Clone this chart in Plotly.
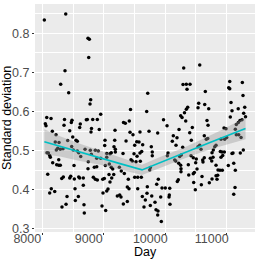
import plotly.graph_objects as go

# scatter points: day, standard deviation
day = [8033, 8381, 8743, 8765, 8755, 8369, 8299, 8429, 9715, 10300, 10561, 10289, 10343, 10403, 10354, 10652, 11049, 11032, 11049, 11254,
       8787, 8776, 8950, 8072, 8142, 8049, 8060, 8361, 8483, 8472, 8716, 8732, 8820, 8895, 8353, 8618, 8608, 8800, 8926, 8163, 8446, 8792, 8223,
       9435, 9698, 9321, 9350, 9415, 10251, 10273, 9972, 10029, 10333, 9183, 9427, 9475, 9589, 9736, 9877, 10131, 10191, 10224,
       10365, 10343, 10313, 10544, 10533, 10642, 10707, 11070, 11293, 11086, 11187, 11276, 11265, 11058, 10679, 10696, 10440, 10956, 10988,
       11156, 11189, 11216, 11249, 11306, 11140, 11156, 11195, 11233, 10398,
       8548, 8569, 8272, 8211, 8495, 8413, 9020, 9015, 8228, 8251, 8293, 8337, 8478, 8504, 8569, 8592, 8625, 8695, 8781, 8797, 8862, 8911, 9048,
       8076, 8098, 8120, 8130, 8885, 8950, 9048, 8169, 8267, 8234, 8267, 8293, 8516, 8748, 8743, 8846, 8885, 9025,
       9178, 9362, 9536, 9573, 10115, 9633, 9503, 9773, 9166, 9188, 9188, 10175, 9589, 9617, 9789, 9101, 9122, 9313, 9492, 10045, 10034, 10235,
       10261, 9541, 9789, 9443, 9464, 9524, 9594, 10154, 10170, 9757, 9747, 10219, 10251, 10256, 9090, 9122, 9145, 9253,
       10424, 10635, 10668, 10691, 10907, 10967, 11000, 10826, 10805, 10782, 10761, 10561, 10533, 10284, 10582, 10896, 10923, 10961, 10907, 10935,
       11086, 11102, 11221, 11270, 10419, 10456, 10505, 10495, 10733, 10756, 10777, 10635, 10609, 10614, 10826, 10375, 10517, 10858, 10891, 10928,
       11026, 11114, 11140,
       8088, 8316, 8342, 8446, 8462, 8521, 8592, 8608, 8667, 8830, 8862, 8895, 8983, 9009, 9085, 8667, 8532, 8146, 8120, 8202, 9069, 9048, 8987,
       8402, 8586, 8537, 8678, 8386, 8320, 8971, 9031, 8683,
       9162, 9129, 9101, 9285, 9334, 9399, 9503, 9552, 9611, 9383, 9410, 9552, 9708, 9861, 9887, 9947, 10001, 10073, 10196, 10212, 9220, 9259,
       9280, 9383, 9627, 9676, 9703, 10066, 10061, 9318, 9780, 9926, 9654, 9757, 9833, 10077, 9850, 9882, 9877, 9936,
       10256, 10382, 10456, 10473, 10853, 10826, 10598, 10463, 10761, 10717, 10587, 10842, 10489, 11135, 11114]
sd = [0.834, 0.849, 0.787, 0.785, 0.738, 0.704, 0.670, 0.648, 0.647, 0.711, 0.719, 0.669, 0.670, 0.670, 0.657, 0.651, 0.677, 0.661, 0.658, 0.674,
      0.630, 0.619, 0.593, 0.585, 0.582, 0.569, 0.564, 0.580, 0.578, 0.572, 0.579, 0.580, 0.580, 0.580, 0.565, 0.568, 0.559, 0.557, 0.554, 0.550, 0.551, 0.548, 0.541,
      0.605, 0.600, 0.572, 0.570, 0.576, 0.589, 0.585, 0.579, 0.564, 0.576, 0.552, 0.547, 0.541, 0.548, 0.550, 0.545, 0.538, 0.533, 0.554,
      0.611, 0.606, 0.597, 0.621, 0.610, 0.618, 0.607, 0.623, 0.611, 0.602, 0.607, 0.596, 0.641, 0.586, 0.577, 0.565, 0.559, 0.558, 0.556,
      0.567, 0.572, 0.577, 0.579, 0.587, 0.555, 0.541, 0.541, 0.534, 0.546,
      0.527, 0.524, 0.521, 0.522, 0.535, 0.526, 0.527, 0.513, 0.502, 0.506, 0.504, 0.505, 0.511, 0.502, 0.499, 0.495, 0.485, 0.504, 0.501, 0.491, 0.501, 0.499, 0.493,
      0.495, 0.494, 0.488, 0.483, 0.481, 0.481, 0.483, 0.469, 0.477, 0.464, 0.463, 0.463, 0.462, 0.472, 0.454, 0.458, 0.459, 0.462,
      0.527, 0.525, 0.523, 0.522, 0.524, 0.515, 0.514, 0.510, 0.510, 0.504, 0.497, 0.514, 0.494, 0.498, 0.497, 0.492, 0.495, 0.493, 0.492, 0.494, 0.487, 0.485,
      0.489, 0.486, 0.487, 0.477, 0.474, 0.472, 0.473, 0.476, 0.474, 0.457, 0.451, 0.468, 0.463, 0.454, 0.466, 0.458, 0.453, 0.458,
      0.527, 0.538, 0.529, 0.531, 0.529, 0.529, 0.534, 0.514, 0.510, 0.502, 0.495, 0.514, 0.510, 0.509, 0.504, 0.498, 0.497, 0.497, 0.483, 0.488,
      0.493, 0.494, 0.494, 0.502, 0.487, 0.482, 0.479, 0.469, 0.481, 0.474, 0.483, 0.482, 0.476, 0.471, 0.463, 0.464, 0.453, 0.451, 0.450, 0.450,
      0.462, 0.468, 0.450,
      0.440, 0.429, 0.433, 0.430, 0.435, 0.428, 0.433, 0.430, 0.430, 0.432, 0.427, 0.425, 0.427, 0.429, 0.439, 0.412, 0.403, 0.403, 0.392, 0.396, 0.402, 0.397, 0.392,
      0.383, 0.383, 0.373, 0.362, 0.363, 0.356, 0.359, 0.347, 0.341,
      0.439, 0.430, 0.420, 0.448, 0.442, 0.427, 0.432, 0.432, 0.432, 0.407, 0.403, 0.403, 0.408, 0.414, 0.427, 0.405, 0.405, 0.404, 0.421, 0.426, 0.384, 0.387,
      0.382, 0.370, 0.383, 0.374, 0.391, 0.387, 0.382, 0.364, 0.384, 0.382, 0.356, 0.360, 0.368, 0.363, 0.349, 0.346, 0.336, 0.319,
      0.446, 0.438, 0.441, 0.444, 0.437, 0.436, 0.434, 0.419, 0.428, 0.418, 0.413, 0.427, 0.400, 0.406, 0.389]

# fitted trend and confidence band
fit_day = [8033, 8288, 8613, 8939, 9264, 9622, 9915, 10289, 10566, 10891, 11306]
fit_sd = [0.523, 0.511, 0.496, 0.482, 0.467, 0.451, 0.470, 0.493, 0.511, 0.531, 0.557]
fit_upper = [0.555, 0.537, 0.518, 0.500, 0.482, 0.464, 0.484, 0.507, 0.527, 0.551, 0.585]
fit_lower = [0.491, 0.485, 0.474, 0.464, 0.452, 0.438, 0.456, 0.479, 0.495, 0.511, 0.529]

x_ticks = [8000, 9000, 10000, 11000]
y_ticks = [0.3, 0.4, 0.5, 0.6, 0.7, 0.8]
x_title = "Day"
y_title = "Standard deviation"

fig = go.Figure()
fig.add_trace(go.Scatter(x=day, y=sd, mode="markers",
                         marker=dict(color="black", size=3.5, line=dict(width=0)),
                         showlegend=False, hoverinfo="skip"))
fig.add_trace(go.Scatter(x=fit_day + fit_day[::-1], y=fit_upper + fit_lower[::-1],
                         fill="toself", fillcolor="rgba(153,153,153,0.4)",
                         line=dict(width=0), mode="lines", showlegend=False, hoverinfo="skip"))
fig.add_trace(go.Scatter(x=fit_day, y=fit_sd, mode="lines",
                         line=dict(color="#00BFC4", width=1.6), showlegend=False))

fig.update_layout(
    width=258, height=260,
    margin=dict(l=35, r=3, t=4, b=28),
    paper_bgcolor="white", plot_bgcolor="#EBEBEB",
    font=dict(family="Liberation Sans, Arial, sans-serif", color="black"),
    annotations=[
        dict(text=x_title, xref="paper", yref="paper", x=0.5, y=-0.088,
             xanchor="center", yanchor="middle", showarrow=False,
             font=dict(size=12.5, color="black")),
        dict(text=y_title, xref="paper", yref="paper", x=-0.127, y=0.5,
             xanchor="center", yanchor="middle", showarrow=False, textangle=-90,
             font=dict(size=12.5, color="black")),
    ],
)
fig.update_xaxes(
    range=[7881, 11460], tickvals=x_ticks, ticktext=[str(v) for v in x_ticks],
    showgrid=True, gridcolor="white", gridwidth=1.1,
    minor=dict(dtick=500, tick0=7500, showgrid=True, gridcolor="white", gridwidth=0.5),
    ticks="outside", ticklen=2, tickcolor="#333333", tickwidth=1,
    ticklabelshift=-15, ticklabelstandoff=-7,
    tickfont=dict(size=12.5, color="#4D4D4D"),
    zeroline=False, showline=False, automargin=False,
)
fig.update_yaxes(
    range=[0.2923, 0.8748], tickvals=y_ticks, ticktext=[f"{v:.1f}" for v in y_ticks],
    showgrid=True, gridcolor="white", gridwidth=1.1,
    minor=dict(dtick=0.05, tick0=0.25, showgrid=True, gridcolor="white", gridwidth=0.5),
    ticks="outside", ticklen=2, tickcolor="#333333", tickwidth=1,
    tickfont=dict(size=12.5, color="#4D4D4D"),
    zeroline=False, showline=False, automargin=False,
)

fig.write_html("out.html", config={"displayModeBar": False},
               post_script="document.body.style.margin='0px';")
